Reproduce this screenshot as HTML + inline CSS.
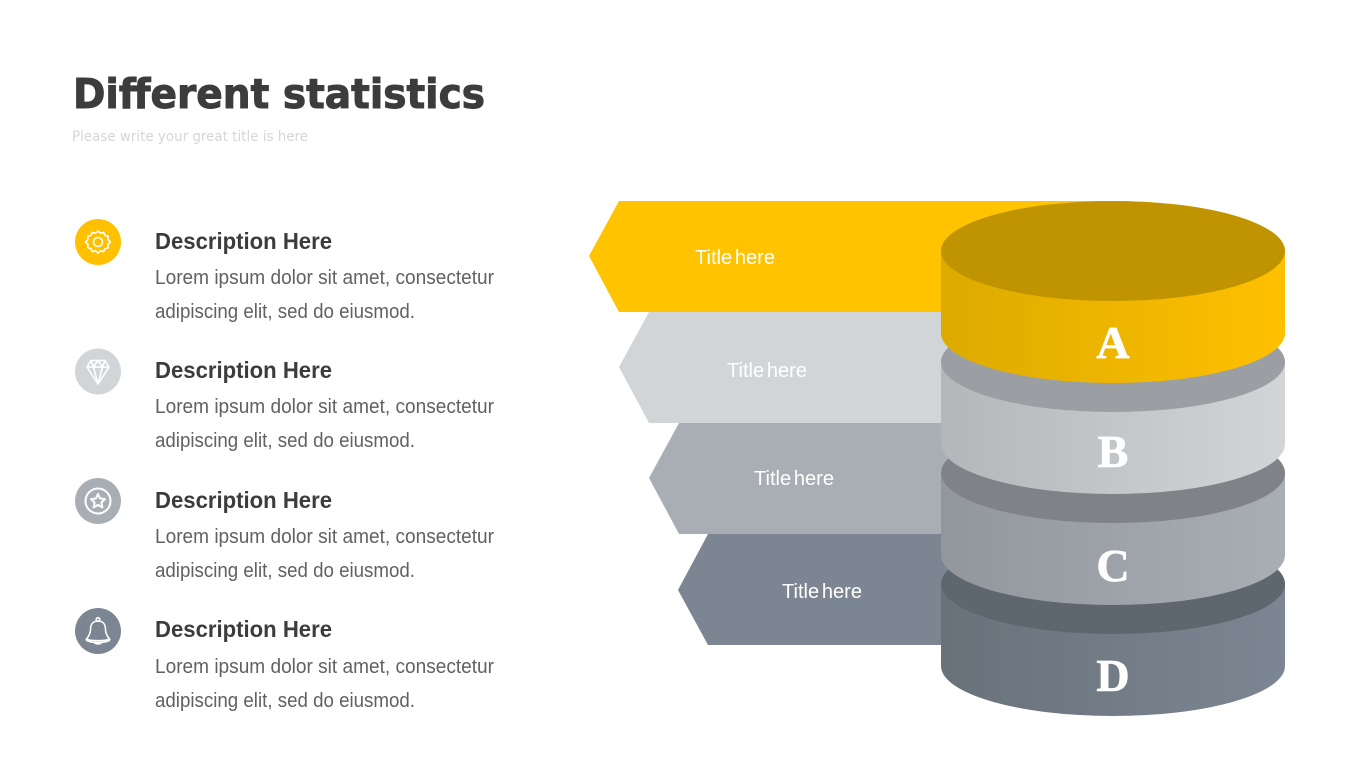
<!DOCTYPE html>
<html><head><meta charset="utf-8"><title>Different statistics</title>
<style>
html,body{margin:0;padding:0;background:#fff;width:1365px;height:768px;overflow:hidden}
svg{display:block}
text{font-family:"Liberation Sans",sans-serif}
.h{font-size:23px;font-weight:bold;fill:#3c3c3c}
.p{font-size:20px;fill:#616161}
.t{font-size:20.500px;fill:#fff;word-spacing:-3px}
.l{font-family:"Liberation Serif",serif;font-size:46px;font-weight:bold;fill:#fff;stroke:#fff;stroke-width:.7;text-anchor:middle}
.i{fill:none;stroke:#fff;stroke-width:1.6;stroke-linejoin:round;stroke-linecap:round}
</style></head><body>
<svg width="1365" height="768" viewBox="0 0 1365 768" xmlns="http://www.w3.org/2000/svg">
<defs>
<linearGradient id="ga" x1="0" x2="1" y1="0" y2="0"><stop offset="0" stop-color="#dcab00"/><stop offset="1" stop-color="#ffc000"/></linearGradient>
<linearGradient id="gb" x1="0" x2="1" y1="0" y2="0"><stop offset="0" stop-color="#b3b7ba"/><stop offset="1" stop-color="#d2d5d8"/></linearGradient>
<linearGradient id="gc" x1="0" x2="1" y1="0" y2="0"><stop offset="0" stop-color="#92979c"/><stop offset="1" stop-color="#a9aeb5"/></linearGradient>
<linearGradient id="gd" x1="0" x2="1" y1="0" y2="0"><stop offset="0" stop-color="#69727b"/><stop offset="1" stop-color="#7c8692"/></linearGradient>
</defs>
<rect width="1365" height="768" fill="#fff"/>

<text x="73" y="108" style="font-family:'DejaVu Sans','Liberation Sans',sans-serif" font-size="41" font-weight="bold" fill="#3c3c3c" stroke="#3c3c3c" stroke-width="1" textLength="412" lengthAdjust="spacingAndGlyphs">Different statistics</text>
<text x="72" y="141" style="font-family:'DejaVu Sans','Liberation Sans',sans-serif" font-size="14" fill="#d6d6d6" textLength="236" lengthAdjust="spacingAndGlyphs">Please write your great title is here</text>

<circle cx="98" cy="242" r="23" fill="#ffc000"/>
<circle cx="98" cy="371.500" r="23" fill="#d2d5d8"/>
<circle cx="98" cy="501" r="23" fill="#a9aeb5"/>
<circle cx="98" cy="631" r="23" fill="#7c8692"/>

<g class="i">
<path d="M98 231l2.500 2.200 3.200-.8 1.300 3 3.200.9-.2 3.300 2.500 2.400-2.500 2.400.2 3.300-3.200.9-1.300 3-3.200-.8-2.500 2.200-2.500-2.200-3.200.8-1.300-3-3.200-.9.2-3.300-2.500-2.400 2.500-2.400-.2-3.300 3.200-.9 1.300-3 3.200.8z"/>
<circle cx="98" cy="242" r="4.500"/>
</g>
<g class="i">
<path d="M91 360.500h14l4 6.500L98 384 87 367zM87 367h22M93.500 367l4.500 17 4.500-17M91 360.500l2.500 6.500 4.500-6.500 4.500 6.500 2.500-6.500"/>
</g>
<g class="i">
<circle cx="98" cy="501" r="12.500" stroke-width="2"/>
<path d="M98 494l2.100 4.500 4.900.6-3.600 3.400 1 4.900-4.400-2.500-4.400 2.500 1-4.900-3.600-3.400 4.900-.6z" stroke-width="2"/>
</g>
<g class="i">
<circle cx="98" cy="619.500" r="1.800"/>
<path d="M98 621c-5.500 0-7.500 4-7.500 8.500 0 4-1.500 6.500-4 9.500 3 2.200 20 2.200 23 0-2.500-3-4-5.500-4-9.500 0-4.500-2-8.500-7.500-8.500z"/>
<path d="M86.500 639c-1.500 2 5 3.500 11.500 3.500s13-1.500 11.500-3.500M94.500 642.500c.5 1.800 6.500 1.800 7 0"/>
</g>

<g id="desc">
<text class="h" x="155" y="249" textLength="177" lengthAdjust="spacingAndGlyphs">Description Here</text>
<text class="p" x="155" y="284" textLength="339" lengthAdjust="spacingAndGlyphs">Lorem ipsum dolor sit amet, consectetur</text>
<text class="p" x="155" y="318" textLength="260" lengthAdjust="spacingAndGlyphs">adipiscing elit, sed do eiusmod.</text>
<text class="h" x="155" y="378" textLength="177" lengthAdjust="spacingAndGlyphs">Description Here</text>
<text class="p" x="155" y="413" textLength="339" lengthAdjust="spacingAndGlyphs">Lorem ipsum dolor sit amet, consectetur</text>
<text class="p" x="155" y="447" textLength="260" lengthAdjust="spacingAndGlyphs">adipiscing elit, sed do eiusmod.</text>
<text class="h" x="155" y="508" textLength="177" lengthAdjust="spacingAndGlyphs">Description Here</text>
<text class="p" x="155" y="543" textLength="339" lengthAdjust="spacingAndGlyphs">Lorem ipsum dolor sit amet, consectetur</text>
<text class="p" x="155" y="577" textLength="260" lengthAdjust="spacingAndGlyphs">adipiscing elit, sed do eiusmod.</text>
<text class="h" x="155" y="637" textLength="177" lengthAdjust="spacingAndGlyphs">Description Here</text>
<text class="p" x="155" y="673" textLength="339" lengthAdjust="spacingAndGlyphs">Lorem ipsum dolor sit amet, consectetur</text>
<text class="p" x="155" y="707" textLength="260" lengthAdjust="spacingAndGlyphs">adipiscing elit, sed do eiusmod.</text>
</g>

<polygon points="708,534 1000,534 1000,645 708,645 678,590" fill="#7c8692"/>
<polygon points="679,423 1000,423 1000,534 679,534 649,478" fill="#a9aeb5"/>
<polygon points="649,312 1000,312 1000,423 649,423 619,367" fill="#d2d5d8"/>
<polygon points="619,201 1113,201 1113,312 619,312 589,256" fill="#ffc300"/>

<text class="t" x="695" y="264" textLength="80" lengthAdjust="spacingAndGlyphs">Title here</text>
<text class="t" x="727" y="377" textLength="80" lengthAdjust="spacingAndGlyphs">Title here</text>
<text class="t" x="754" y="485" textLength="80" lengthAdjust="spacingAndGlyphs">Title here</text>
<text class="t" x="782" y="598" textLength="80" lengthAdjust="spacingAndGlyphs">Title here</text>

<path d="M941 584A172 50 0 0 1 1285 584V666A172 50 0 0 1 941 666Z" fill="url(#gd)"/>
<ellipse cx="1113" cy="584" rx="172" ry="50" fill="#5e666e"/>
<path d="M941 473A172 50 0 0 1 1285 473V555A172 50 0 0 1 941 555Z" fill="url(#gc)"/>
<ellipse cx="1113" cy="473" rx="172" ry="50" fill="#7f8388"/>
<path d="M941 362A172 50 0 0 1 1285 362V444A172 50 0 0 1 941 444Z" fill="url(#gb)"/>
<ellipse cx="1113" cy="362" rx="172" ry="50" fill="#9b9fa3"/>
<path d="M941 251A172 50 0 0 1 1285 251V333A172 50 0 0 1 941 333Z" fill="url(#ga)"/>
<ellipse cx="1113" cy="251" rx="172" ry="50" fill="#c09400"/>

<text class="l" x="1113" y="358">A</text>
<text class="l" x="1113" y="467">B</text>
<text class="l" x="1113" y="581">C</text>
<text class="l" x="1113" y="691">D</text>
</svg>
</body></html>
